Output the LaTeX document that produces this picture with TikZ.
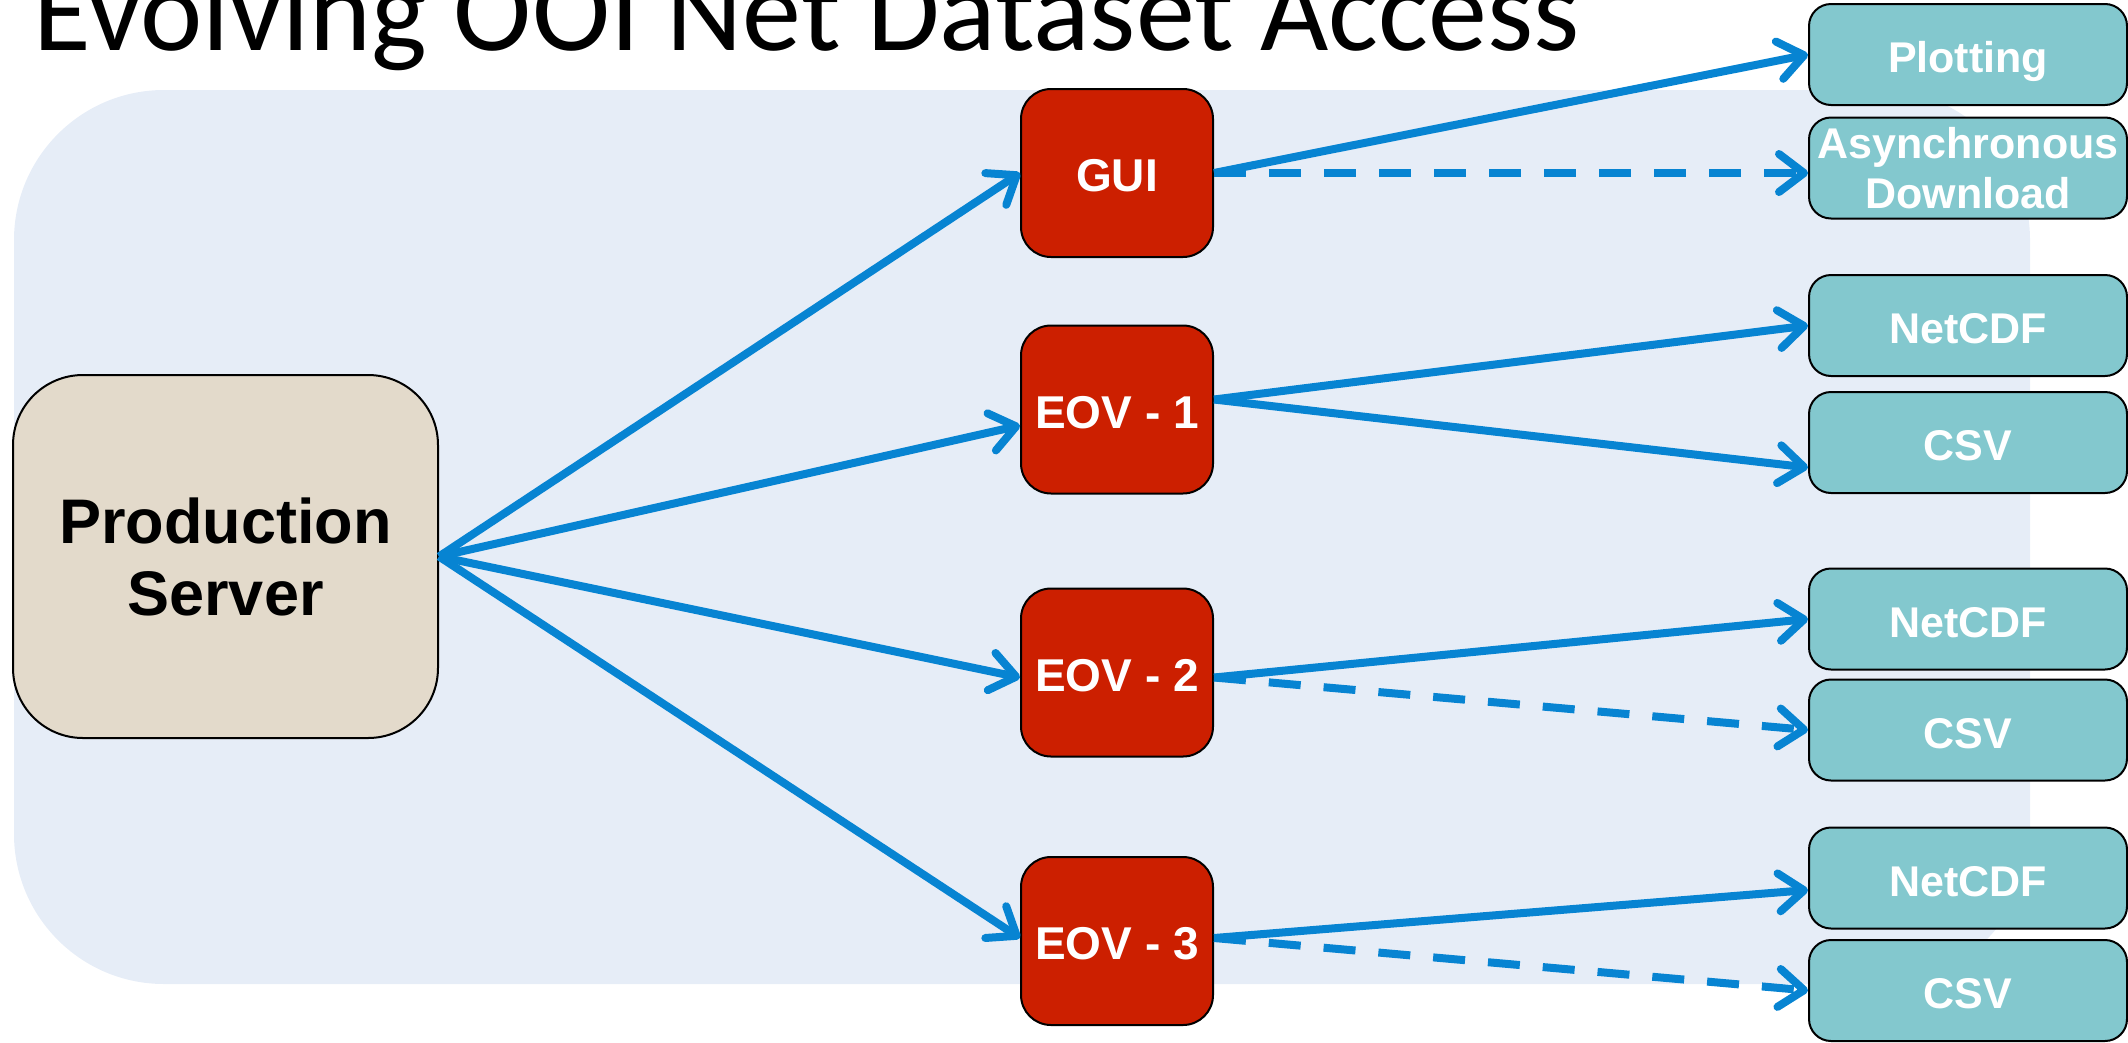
\documentclass[tikz,border=0pt]{standalone}
\usepackage{fontspec}
\setmainfont{Liberation Sans}
\newfontfamily\titlefont{Carlito}
\usetikzlibrary{arrows.meta}
\definecolor{bgblue}{HTML}{E6EDF7}
\definecolor{srvbeige}{HTML}{E3DACB}
\definecolor{eovred}{HTML}{CC1F00}
\definecolor{outteal}{HTML}{83C8CE}
\definecolor{lineblue}{HTML}{0784D2}
\tikzset{
  srvbox/.style={draw=black, line width=2pt, fill=srvbeige, rounded corners=70pt,
    minimum width=425pt, minimum height=363pt, inner sep=0pt, align=center,
    font=\bfseries\fontsize{63}{72}\selectfont},
  eovbox/.style={draw=black, line width=2pt, fill=eovred, rounded corners=30pt,
    minimum width=192pt, minimum height=168pt, inner sep=0pt, text=white,
    text height=37pt, text depth=0pt,
    font=\bfseries\fontsize{46}{52}\selectfont},
  outbox/.style={draw=black, line width=2pt, fill=outteal, rounded corners=22pt,
    minimum width=318pt, minimum height=101pt, inner sep=0pt, text=white, align=center,
    font=\bfseries\fontsize{43}{50}\selectfont},
  onebox/.style={outbox, text height=36pt, text depth=0pt},
  conn/.style={draw=lineblue, line width=8pt,
    -{Straight Barb[length=25pt,width=38pt,line cap=round,line join=round]}},
  dashconn/.style={conn, dash pattern=on 32pt off 23pt}
}
\begin{document}
\begin{tikzpicture}[x=1pt,y=-1pt]
\useasboundingbox (0,0) rectangle (2128,1042);
\fill[bgblue, rounded corners=150pt] (14,90) rectangle (2030,984);
\node[anchor=base west, inner sep=0pt, font=\titlefont\fontsize{118}{130}\selectfont] (title) at (33,50) {Evolving OOI Net Dataset Access};

\node[srvbox] (ps) at (225.5,556.5) {Production\\Server};

\node[eovbox] (gui) at (1117,173) {GUI};
\node[eovbox] (e1) at (1117,409.5) {EOV - 1};
\node[eovbox] (e2) at (1117,672.5) {EOV - 2};
\node[eovbox] (e3) at (1117,941) {EOV - 3};

\node[onebox] (plot) at (1968,54.5) {Plotting};
\node[outbox] (async) at (1968,168) {Asynchronous\\Download};
\node[onebox] (net1) at (1968,325.5) {NetCDF};
\node[onebox] (csv1) at (1968,442.5) {CSV};
\node[onebox] (net2) at (1968,619) {NetCDF};
\node[onebox] (csv2) at (1968,730) {CSV};
\node[onebox] (net3) at (1968,878) {NetCDF};
\node[onebox] (csv3) at (1968,990.5) {CSV};

\draw[conn] (ps.east) -- (gui.west);
\draw[conn] (ps.east) -- ([yshift=-16pt]e1.west);
\draw[conn] (ps.east) -- ([yshift=-5pt]e2.west);
\draw[conn] (ps.east) -- ([yshift=3pt]e3.west);

\draw[conn] (gui.east) -- (plot.west);
\draw[dashconn] (gui.east) -- (gui.east -| async.west);

\draw[conn] ([yshift=10pt]e1.east) -- (net1.west);
\draw[conn] ([yshift=10pt]e1.east) -- ([yshift=-25pt]csv1.west);

\draw[conn] ([yshift=-5pt]e2.east) -- (net2.west);
\draw[dashconn] ([yshift=-5pt]e2.east) -- (csv2.west);

\draw[conn] ([yshift=3pt]e3.east) -- ([yshift=-12pt]net3.west);
\draw[dashconn] ([yshift=3pt]e3.east) -- (csv3.west);
\end{tikzpicture}
\end{document}
